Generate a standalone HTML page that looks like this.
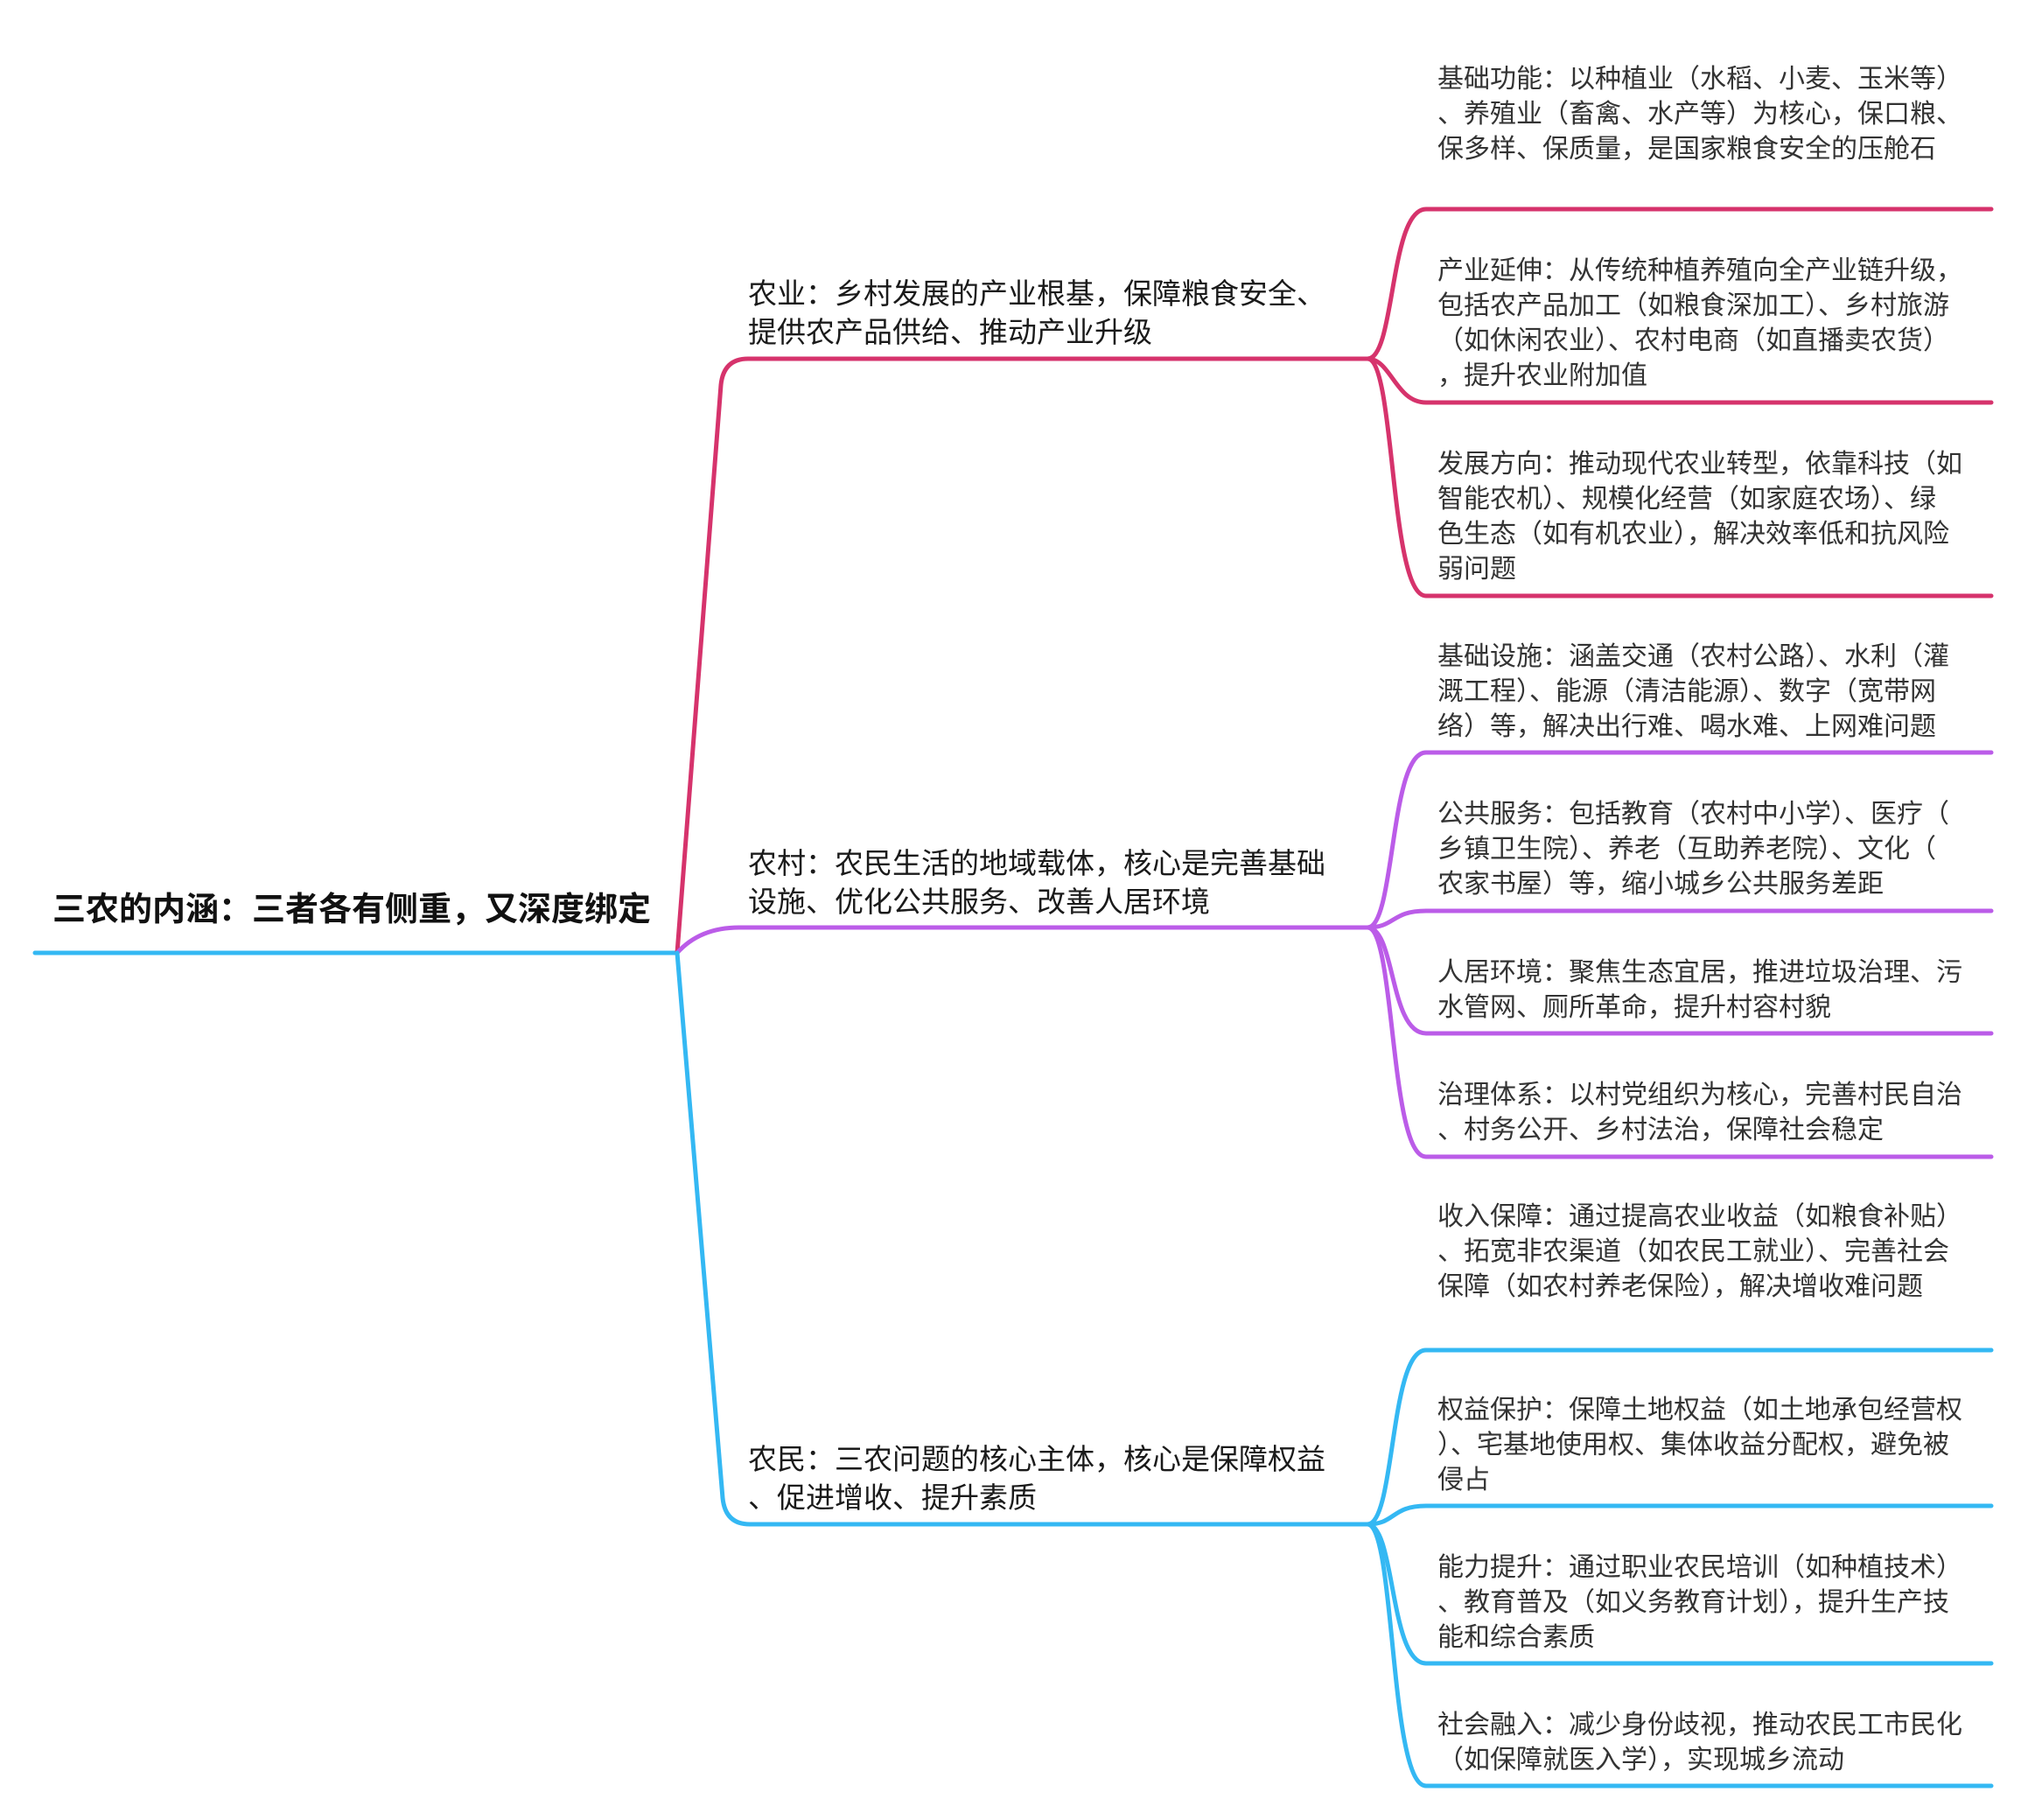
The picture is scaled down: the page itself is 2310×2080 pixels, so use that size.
<!DOCTYPE html>
<html><head><meta charset="utf-8"><style>
html,body{margin:0;padding:0;background:#fff;}
body{width:2310px;height:2080px;position:relative;overflow:hidden;font-family:"Liberation Sans","Noto Sans CJK SC",sans-serif;}
svg{position:absolute;left:0;top:0;}
.t{position:absolute;white-space:nowrap;color:#2a2a2a;}
.root{font-size:38px;font-weight:bold;color:#111;line-height:50px;}
.l1{font-size:33px;line-height:44px;color:#1a1a1a;}
.l2{font-size:30px;line-height:40px;color:#333;}
</style></head><body>
<svg width="2310" height="2080" fill="none" stroke-linecap="round" stroke-linejoin="round">
<g stroke="#34b8f3" stroke-width="5"><path d="M40,1089 L774,1089"/></g>
<g stroke="#d6336c" stroke-width="5">
<path d="M774,1089 L824,440 Q827,410 855,410 L1563,410"/>
<path d="M1563,410 C1595,410 1588,239 1630,239 L2276,239"/>
<path d="M1563,410 C1590,410 1595,460 1630,460 L2276,460"/>
<path d="M1563,410 C1595,410 1588,681 1630,681 L2276,681"/>
</g>
<g stroke="#bb5ce8" stroke-width="5">
<path d="M774,1089 Q800,1060 845,1060 L1563,1060"/>
<path d="M1563,1060 C1595,1060 1588,860 1630,860 L2276,860"/>
<path d="M1563,1060 C1595,1060 1590,1041 1630,1041 L2276,1041"/>
<path d="M1563,1060 C1595,1060 1588,1181 1630,1181 L2276,1181"/>
<path d="M1563,1060 C1595,1060 1588,1322 1630,1322 L2276,1322"/>
</g>
<g stroke="#34b8f3" stroke-width="5">
<path d="M774,1089 L826,1712 Q829,1742 857,1742 L1563,1742"/>
<path d="M1563,1742 C1595,1742 1588,1543 1630,1543 L2276,1543"/>
<path d="M1563,1742 C1595,1742 1590,1721 1630,1721 L2276,1721"/>
<path d="M1563,1742 C1595,1742 1588,1901 1630,1901 L2276,1901"/>
<path d="M1563,1742 C1595,1742 1588,2041 1630,2041 L2276,2041"/>
</g>
</svg>
<div class="t root" style="left:60px;top:1015px;">三农的内涵：三者各有侧重，又深度绑定</div>

<div class="t l1" style="left:855px;top:314px;">农业：乡村发展的产业根基，保障粮食安全、<br>提供农产品供给、推动产业升级</div>
<div class="t l1" style="left:855px;top:965px;">农村：农民生活的地域载体，核心是完善基础<br>设施、优化公共服务、改善人居环境</div>
<div class="t l1" style="left:855px;top:1646px;">农民：三农问题的核心主体，核心是保障权益<br>、促进增收、提升素质</div>

<div class="t l2" style="left:1643px;top:71px;">基础功能：以种植业（水稻、小麦、玉米等）<br>、养殖业（畜禽、水产等）为核心，保口粮、<br>保多样、保质量，是国家粮食安全的压舱石</div>
<div class="t l2" style="left:1643px;top:290px;">产业延伸：从传统种植养殖向全产业链升级，<br>包括农产品加工（如粮食深加工）、乡村旅游<br>（如休闲农业）、农村电商（如直播卖农货）<br>，提升农业附加值</div>
<div class="t l2" style="left:1643px;top:511px;">发展方向：推动现代农业转型，依靠科技（如<br>智能农机）、规模化经营（如家庭农场）、绿<br>色生态（如有机农业），解决效率低和抗风险<br>弱问题</div>

<div class="t l2" style="left:1643px;top:731px;">基础设施：涵盖交通（农村公路）、水利（灌<br>溉工程）、能源（清洁能源）、数字（宽带网<br>络）等，解决出行难、喝水难、上网难问题</div>
<div class="t l2" style="left:1643px;top:911px;">公共服务：包括教育（农村中小学）、医疗（<br>乡镇卫生院）、养老（互助养老院）、文化（<br>农家书屋）等，缩小城乡公共服务差距</div>
<div class="t l2" style="left:1643px;top:1092px;">人居环境：聚焦生态宜居，推进垃圾治理、污<br>水管网、厕所革命，提升村容村貌</div>
<div class="t l2" style="left:1643px;top:1232px;">治理体系：以村党组织为核心，完善村民自治<br>、村务公开、乡村法治，保障社会稳定</div>

<div class="t l2" style="left:1643px;top:1371px;">收入保障：通过提高农业收益（如粮食补贴）<br>、拓宽非农渠道（如农民工就业）、完善社会<br>保障（如农村养老保险），解决增收难问题</div>
<div class="t l2" style="left:1643px;top:1592px;">权益保护：保障土地权益（如土地承包经营权<br>）、宅基地使用权、集体收益分配权，避免被<br>侵占</div>
<div class="t l2" style="left:1643px;top:1772px;">能力提升：通过职业农民培训（如种植技术）<br>、教育普及（如义务教育计划），提升生产技<br>能和综合素质</div>
<div class="t l2" style="left:1643px;top:1952px;">社会融入：减少身份歧视，推动农民工市民化<br>（如保障就医入学），实现城乡流动</div>
</body></html>
